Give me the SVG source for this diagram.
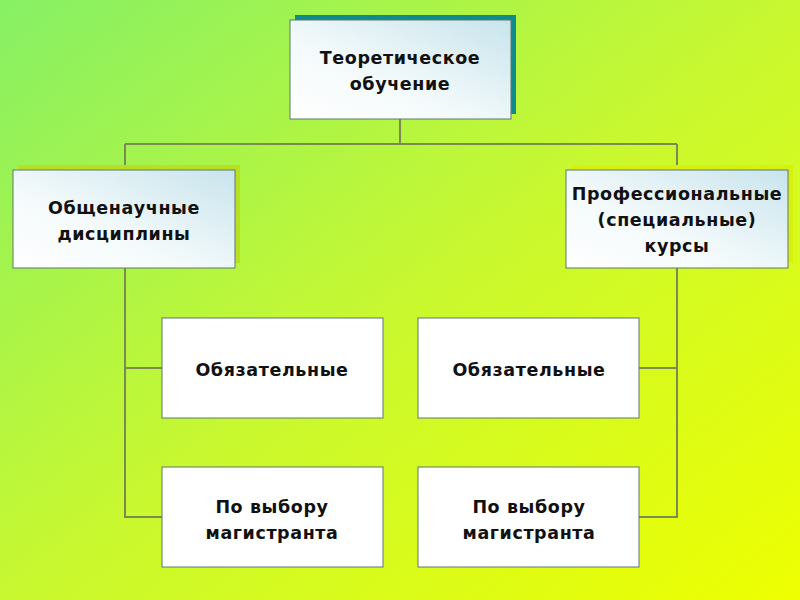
<svg xmlns="http://www.w3.org/2000/svg" width="800" height="600" viewBox="0 0 800 600">
<defs>
<linearGradient id="bg" x1="0" y1="0" x2="1" y2="1"><stop offset="0" stop-color="#86f065"/><stop offset="0.5" stop-color="#c8f830"/><stop offset="1" stop-color="#eeff00"/></linearGradient>
<linearGradient id="box" x1="1" y1="0" x2="0" y2="1"><stop offset="0" stop-color="#c8e4ec"/><stop offset="0.6" stop-color="#f4fafb"/><stop offset="1" stop-color="#ffffff"/></linearGradient>
<style>
.b{stroke:#5a7a6a;stroke-width:1}
.t{font-family:"DejaVu Sans",Arial,sans-serif;font-weight:bold;font-size:17.5px;letter-spacing:0.6px;fill:#111;text-anchor:middle}
.c{stroke:#7a8a50;stroke-width:2;fill:none}
</style>
</defs>
<rect width="800" height="600" fill="url(#bg)"/>
<g id="connectors">
<path class="c" d="M400 119V144M125 144H677M125 144V170M677 144V170M125 268V517H162M125 368H162M677 268V517H639M677 368H639"/>
</g>
<g id="n1"><rect x="295" y="15" width="221" height="99" fill="#108a8a"/><rect class="b" x="290" y="20" width="221" height="99" fill="url(#box)"/><text class="t" x="400" y="64">Теоретическое</text><text class="t" x="400" y="90">обучение</text></g>
<g id="n2"><rect x="18" y="165" width="222" height="98" fill="#b8e020"/><rect class="b" x="13" y="170" width="222" height="98" fill="url(#box)"/><text class="t" x="124" y="214">Общенаучные</text><text class="t" x="124" y="240">дисциплины</text></g>
<g id="n3"><rect x="571" y="165" width="222" height="98" fill="#d8f010"/><rect class="b" x="566" y="170" width="222" height="98" fill="url(#box)"/><text class="t" x="677" y="200">Профессиональные</text><text class="t" x="677" y="226">(специальные)</text><text class="t" x="677" y="252">курсы</text></g>
<g id="n4"><rect class="b" x="162" y="318" width="221" height="100" fill="#fff" stroke="#222"/><text class="t" x="272" y="376">Обязательные</text></g>
<g id="n5"><rect class="b" x="418" y="318" width="221" height="100" fill="#fff" stroke="#222"/><text class="t" x="529" y="376">Обязательные</text></g>
<g id="n6"><rect class="b" x="162" y="467" width="221" height="100" fill="#fff" stroke="#222"/><text class="t" x="272" y="513">По выбору</text><text class="t" x="272" y="539">магистранта</text></g>
<g id="n7"><rect class="b" x="418" y="467" width="221" height="100" fill="#fff" stroke="#222"/><text class="t" x="529" y="513">По выбору</text><text class="t" x="529" y="539">магистранта</text></g>
</svg>
